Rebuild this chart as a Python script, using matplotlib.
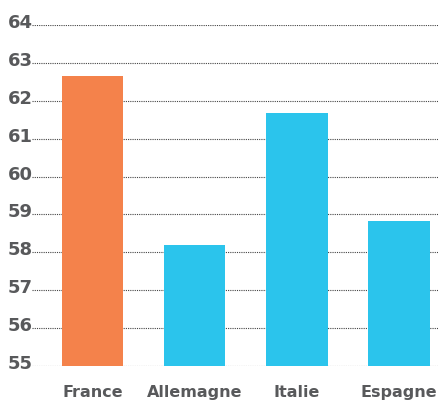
import matplotlib.pyplot as plt
import matplotlib.transforms as mtrans

categories = ['France', 'Allemagne', 'Italie', 'Espagne']
values = [62.65, 58.2, 61.67, 58.82]
colors = ['#F4824B', '#2BC4EC', '#2BC4EC', '#2BC4EC']
yticks = [55, 56, 57, 58, 59, 60, 61, 62, 63, 64]

fig = plt.figure(figsize=(4.39, 4.01), dpi=100)
ax = fig.add_axes([32 / 439, 35 / 401, 1 - 32 / 439, 341 / 401])

x = range(len(categories))
ax.bar(x, [v - 55 for v in values], bottom=55, width=0.6, color=colors, zorder=2)

ax.set_ylim(55, 64)
ax.set_xlim(-0.59, 3.39)
ax.set_yticks(yticks)
ax.yaxis.grid(True, linestyle=(0, (1, 1)), color='#444444', linewidth=0.8, zorder=0)
for s in ax.spines.values():
    s.set_visible(False)
ax.tick_params(length=0)
ax.set_yticklabels([])
ax.set_xticks([])

txt = '#58595B'
font = dict(family='DejaVu Sans', fontweight='bold', color=txt)

# offsets in pixels (dpi 100)
ytr = ax.get_yaxis_transform() + mtrans.ScaledTranslation(0, -3 / 100, fig.dpi_scale_trans)
for t in yticks:
    ax.text(-24 / 407, t, str(t), ha='left', va='baseline', fontsize=13,
            transform=ytr, clip_on=False, **font)

xtr = ax.get_xaxis_transform() + mtrans.ScaledTranslation(0, -19 / 100, fig.dpi_scale_trans)
for i, c in enumerate(categories):
    ax.text(i, 0, c, ha='center', va='top', fontsize=11.5,
            transform=xtr, clip_on=False, **font)

fig.savefig('out.png', dpi=100)
